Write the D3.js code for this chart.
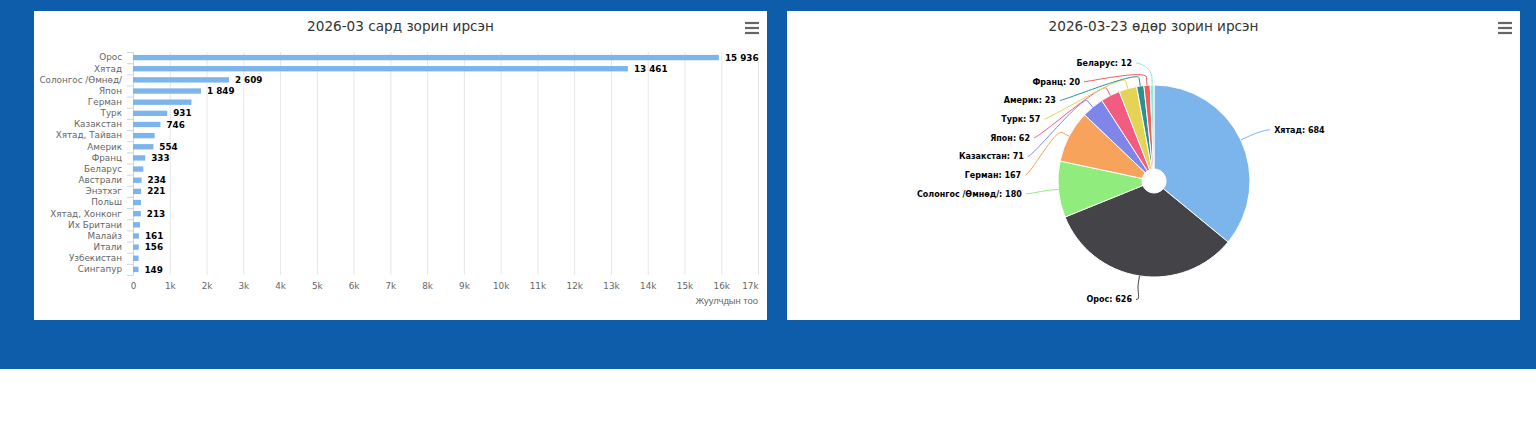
<!DOCTYPE html>
<html>
<head>
<meta charset="utf-8">
<script src="https://cdn.jsdelivr.net/npm/d3@7"></script>
<style>
body { margin: 0; background: #fff; font-family: "DejaVu Sans", Verdana, sans-serif; }
#band { position: absolute; left: 0; top: 0; width: 1536px; height: 369px; background: #0d5daa; }
.panel { position: absolute; top: 11px; width: 733px; height: 309px; background: #fff; }
</style>
</head>
<body>
<div id="band"></div>
<svg id="bar_region" class="panel" style="left:34px"></svg>
<svg id="pie_region" class="panel" style="left:787px"></svg>
<script>
// 2026-03 monthly arrivals
const countries = ["Орос", "Хятад", "Солонгос /Өмнөд/", "Япон", "Герман", "Турк", "Казакстан",
    "Хятад, Тайван", "Америк", "Франц", "Беларус", "Австрали", "Энэтхэг", "Польш",
    "Хятад, Хонконг", "Их Британи", "Малайз", "Итали", "Узбекистан", "Сингапур"];
const monthValues = [15936, 13461, 2609, 1849, 1590, 931, 746, 590, 554, 333, 280, 234, 221, 217,
    213, 190, 161, 156, 152, 149];
// countries whose value label is drawn
const labelledCountries = ["Орос", "Хятад", "Солонгос /Өмнөд/", "Япон", "Турк", "Казакстан", "Америк",
    "Франц", "Австрали", "Энэтхэг", "Хятад, Хонконг", "Малайз", "Итали", "Сингапур"];
const xTickValues = [0, 1000, 2000, 3000, 4000, 5000, 6000, 7000, 8000, 9000, 10000, 11000, 12000,
    13000, 14000, 15000, 16000, 17000];
const xTickLabels = ["0", "1k", "2k", "3k", "4k", "5k", "6k", "7k", "8k", "9k", "10k", "11k", "12k",
    "13k", "14k", "15k", "16k", "17k"];

// 2026-03-23 daily arrivals
const dayCountries = ["Хятад", "Орос", "Солонгос /Өмнөд/", "Герман", "Казакстан", "Япон", "Турк",
    "Америк", "Франц", "Беларус"];
const dayValues = [684, 626, 180, 167, 71, 62, 57, 23, 20, 12];
const sliceColors = ["#7cb5ec", "#434348", "#90ed7d", "#f7a35c", "#8085e9", "#f15c80", "#e4d354",
    "#2b908f", "#f45b5b", "#91e8e1"];

const numfmt = d3.formatLocale({decimal: ".", thousands: " ", grouping: [3], currency: ["", ""]}).format(",d");

function addTitleAndMenu(svg, width, title) {
    svg.append("text")
        .attr("x", width / 2)
        .attr("y", 20)
        .attr("text-anchor", "middle")
        .attr("font-size", "13.6px")
        .attr("fill", "#333")
        .text(title);
    svg.append("g")
        .selectAll("line")
        .data([0, 5, 10])
        .join("line")
        .attr("x1", width - 22).attr("x2", width - 8)
        .attr("y1", d => 12 + d).attr("y2", d => 12 + d)
        .attr("stroke", "#666")
        .attr("stroke-width", 2.2);
}

// ---------------- bar chart ----------------
{
    const width = 733, height = 309;
    const margin = {top: 41, right: 9, bottom: 45, left: 99};
    const inner_width = width - margin.left - margin.right;
    const inner_height = height - margin.top - margin.bottom;

    const svg = d3.select("#bar_region");
    addTitleAndMenu(svg, width, "2026-03 сард зорин ирсэн");

    const chart = svg.append("g")
        .attr("transform", `translate(${margin.left},${margin.top})`);

    const xscale = d3.scaleLinear().domain([0, 17000]).range([0, inner_width]);
    const yscale = d3.scaleBand().domain(countries).range([0, inner_height])
        .paddingInner(0.52).paddingOuter(0.26);

    const xaxis = d3.axisBottom(xscale)
        .tickValues(xTickValues)
        .tickFormat((d, i) => xTickLabels[i])
        .tickSize(-inner_height)
        .tickPadding(8);

    const xaxis_group = chart.append("g")
        .attr("transform", `translate(0,${inner_height})`)
        .call(xaxis);
    xaxis_group.select(".domain").remove();
    xaxis_group.selectAll("line").attr("stroke", "#e6e6e6");
    xaxis_group.selectAll("text")
        .attr("fill", "#666")
        .attr("font-size", "8.8px")
        .attr("font-family", "DejaVu Sans");
    // last label is kept inside the plot, as the original does
    xaxis_group.selectAll(".tick:last-of-type text").attr("text-anchor", "end");

    xaxis_group.append("text")
        .attr("x", inner_width)
        .attr("y", 28.5)
        .attr("text-anchor", "end")
        .attr("fill", "#666")
        .attr("font-size", "9.4px")
        .text("Жуулчдын тоо");

    const yaxis_group = chart.append("g")
        .call(d3.axisLeft(yscale).tickSize(0).tickPadding(11));
    yaxis_group.select(".domain").attr("stroke", "#ccd6eb");
    yaxis_group.selectAll("text")
        .attr("fill", "#666")
        .attr("font-size", "8.8px")
        .attr("font-family", "DejaVu Sans");

    // category boundary ticks
    const step = yscale.step();
    chart.append("g")
        .selectAll("line")
        .data(countries.concat([""]))
        .join("line")
        .attr("x1", -6).attr("x2", 0)
        .attr("y1", (d, i) => i * step + 0.5)
        .attr("y2", (d, i) => i * step + 0.5)
        .attr("stroke", "#ccd6eb");

    const rows = countries.map((c, i) => ({name: c, value: monthValues[i]}));

    chart.append("g")
        .selectAll("rect")
        .data(rows)
        .join("rect")
        .attr("x", 0)
        .attr("y", d => yscale(d.name))
        .attr("width", d => xscale(d.value))
        .attr("height", yscale.bandwidth())
        .attr("fill", "#7cb5ec");

    chart.append("g")
        .selectAll("text")
        .data(rows.filter(d => labelledCountries.includes(d.name)))
        .join("text")
        .attr("x", d => xscale(d.value) + 6)
        .attr("y", d => yscale(d.name) + yscale.bandwidth() / 2)
        .attr("dy", "0.35em")
        .attr("font-size", "8.8px")
        .attr("font-weight", "bold")
        .attr("fill", "#000")
        .attr("stroke", "#fff")
        .attr("stroke-width", 1.5)
        .attr("paint-order", "stroke")
        .text(d => numfmt(d.value));
}

// ---------------- pie chart ----------------
{
    const width = 733, height = 309;
    const cx = 367, cy = 170, r = 96, hole = 12;
    const labelTop = 52, labelBottom = 290, labelGap = 18.7;

    const svg = d3.select("#pie_region");
    addTitleAndMenu(svg, width, "2026-03-23 өдөр зорин ирсэн");

    const chart = svg.append("g").attr("transform", `translate(${cx},${cy})`);

    const slices = d3.pie().sort(null).value(d => d.value)(
        dayCountries.map((c, i) => ({name: c, value: dayValues[i], color: sliceColors[i]})));

    const arc = d3.arc().innerRadius(hole).outerRadius(r);

    chart.selectAll("path.slice")
        .data(slices)
        .join("path")
        .attr("class", "slice")
        .attr("d", arc)
        .attr("fill", d => d.data.color)
        .attr("stroke", "#fff")
        .attr("stroke-width", 1)
        .attr("stroke-linejoin", "round");

    // label layout: natural position, then push apart on each side
    slices.forEach(s => {
        s.mid = (s.startAngle + s.endAngle) / 2;
        s.left = s.mid > Math.PI;
        s.ny = -(r + 24) * Math.cos(s.mid);
    });
    [true, false].forEach(side => {
        const group = slices.filter(s => s.left === side).sort((a, b) => a.ny - b.ny);
        let prev = -Infinity;
        group.forEach(s => {
            s.ly = Math.max(s.ny, prev + labelGap, labelTop - cy);
            s.ly = Math.min(s.ly, labelBottom - cy);
            prev = s.ly;
        });
    });
    slices.forEach(s => {
        const k = Math.max(0, 1 - Math.pow(s.ly / 119.5, 2));
        const dx = Math.max(133 * Math.sqrt(k), 22);
        s.lx = s.left ? -dx : dx;
    });

    const pt = (a, rad) => [rad * Math.sin(a), -rad * Math.cos(a)];

    chart.selectAll("path.connector")
        .data(slices)
        .join("path")
        .attr("class", "connector")
        .attr("fill", "none")
        .attr("stroke", d => d.data.color)
        .attr("stroke-width", 1)
        .attr("d", d => {
            const sx = d.lx + (d.left ? 4 : -4), sy = d.ly;
            const [tx, ty] = pt(d.mid, r);
            const [bx, by] = pt(d.mid, r + 8);
            const c1 = sx + (d.left ? 5 : -5);
            return `M${sx},${sy}C${c1},${sy} ${2 * bx - tx},${2 * by - ty} ${bx},${by}L${tx},${ty}`;
        });

    chart.selectAll("text.label")
        .data(slices)
        .join("text")
        .attr("class", "label")
        .attr("x", d => d.lx)
        .attr("y", d => d.ly)
        .attr("dy", "0.35em")
        .attr("text-anchor", d => d.left ? "end" : "start")
        .attr("font-size", "8px")
        .attr("font-weight", "bold")
        .attr("fill", "#000")
        .attr("stroke", "#fff")
        .attr("stroke-width", 1.5)
        .attr("paint-order", "stroke")
        .text(d => `${d.data.name}: ${numfmt(d.data.value)}`);
}
</script>
</body>
</html>
